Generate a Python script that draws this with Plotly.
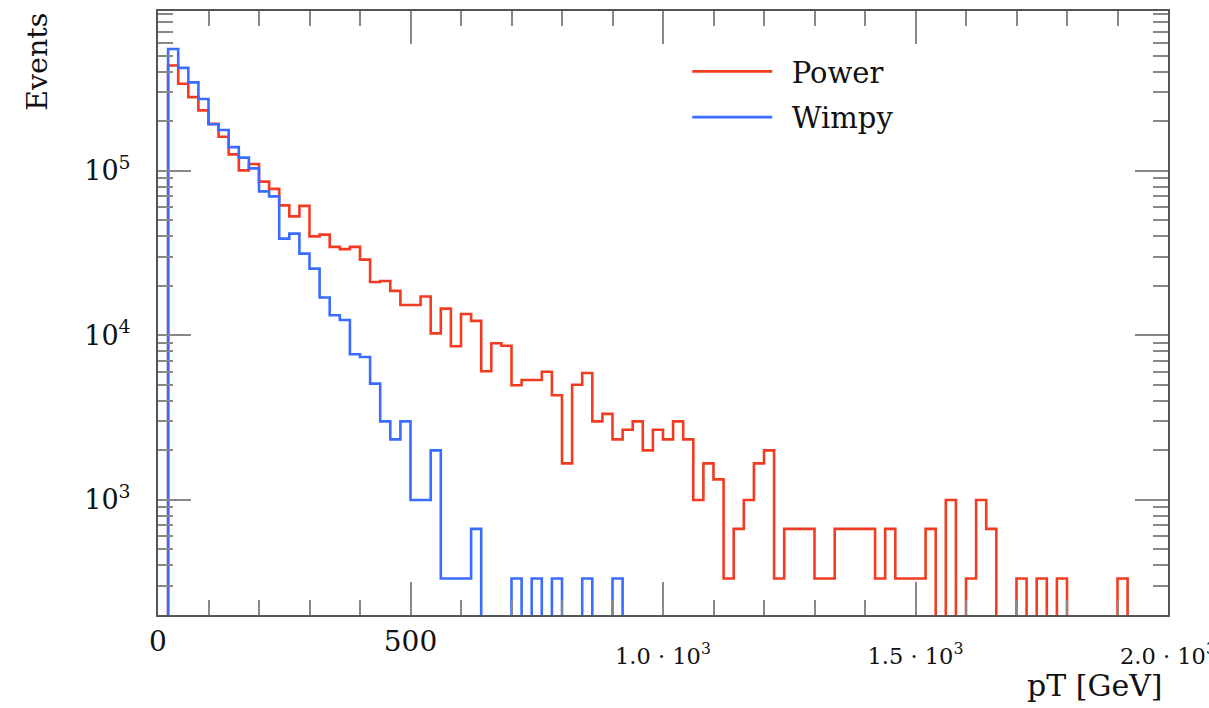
import numpy as np
import plotly.graph_objects as go

# ---------------- data ----------------
bin_width = 20  # GeV
bin_edges = list(range(0, 2001, bin_width))  # 100 bins, 0..2000 GeV

power = [
    0, 435800, 337500, 279800, 232400, 192400, 160900, 125600, 100400, 109700,
    85800, 77500, 61550, 52780, 61130, 39920, 40880, 34450, 33370, 34450,
    28810, 21070, 21360, 18630, 15280, 15280, 17200, 10280, 14530, 8575,
    13470, 12240, 6045, 8940, 8635, 4970, 5352, 5352, 6003, 4323,
    1667, 5005, 5903, 3000, 3333, 2333, 2667, 3000, 2000, 2667,
    2333, 3000, 2333, 1000, 1667, 1333, 333, 667, 1000, 1667,
    2000, 333, 667, 667, 667, 333, 333, 667, 667, 667,
    667, 333, 667, 333, 333, 333, 667, 0, 1000, 0,
    333, 1000, 667, 0, 0, 333, 0, 333, 0, 333,
    0, 0, 0, 0, 0, 333, 0, 0, 0, 0,
]

wimpy = [
    0, 548900, 421000, 343700, 272500, 191600, 176700, 139100, 120100, 103300,
    74850, 69820, 38650, 41440, 31340, 25410, 16960, 13230, 12380, 7666,
    7382, 5090, 3000, 2333, 3000, 1000, 1000, 2000, 333, 333,
    333, 667, 0, 0, 0, 333, 0, 333, 0, 333,
    0, 0, 333, 0, 0, 333, 0, 0, 0, 0,
    0, 0, 0, 0, 0, 0, 0, 0, 0, 0,
    0, 0, 0, 0, 0, 0, 0, 0, 0, 0,
    0, 0, 0, 0, 0, 0, 0, 0, 0, 0,
    0, 0, 0, 0, 0, 0, 0, 0, 0, 0,
    0, 0, 0, 0, 0, 0, 0, 0, 0, 0,
]

series_names = ["Power", "Wimpy"]
series_colors = ["#f23b20", "#3a6cff"]

x_tickvals = [0, 500, 1000, 1500, 2000]
x_tick_main = ["0", "500", "1.0 · 10", "1.5 · 10", "2.0 · 10"]
x_tick_exp = ["", "", "3", "3", "3"]
y_tickvals = [1e3, 1e4, 1e5]
y_ticktext = ["10<sup>3</sup>", "10<sup>4</sup>", "10<sup>5</sup>"]

FONT = "DejaVu Serif"
FLOOR = 1.0  # zero-count bins are drawn down below the visible log range


def x_label(main, exp):
    if not exp:
        return main
    return ('<span style="font-size:22.5px;baseline-shift:-13px">'
            + main + "<sup>" + exp + "</sup></span>")


def step_xy(values):
    xs = list(bin_edges)
    ys = [v if v > 0 else FLOOR for v in values]
    ys = ys + [ys[-1]]
    return xs, ys


fig = go.Figure()
for i, (name, vals) in enumerate(zip(series_names, [power, wimpy])):
    xs, ys = step_xy(vals)
    fig.add_trace(go.Scatter(
        x=xs, y=ys, mode="lines", name="\u2002" + name,
        line=dict(color=series_colors[i], width=2.6, shape="hv"),
        legendgroup=name,
    ))

minor_y = [m * 10 ** e for e in range(2, 6) for m in range(2, 10)]
minor_x = list(range(100, 2000, 100))

fig.update_layout(
    width=1209, height=708,
    margin=dict(l=158, r=41, t=11, b=93, autoexpand=False),
    paper_bgcolor="white", plot_bgcolor="white",
    font=dict(family=FONT, size=28, color="#111"),
    showlegend=True,
    legend=dict(
        x=0.524, y=0.942, xanchor="left", yanchor="top",
        font=dict(family=FONT, size=29, color="#111"),
        bgcolor="rgba(0,0,0,0)", borderwidth=0,
        itemwidth=80, tracegroupgap=5,
    ),
    xaxis=dict(
        range=[0, 2000], showgrid=False, zeroline=False, automargin=False,
        showline=True, linecolor="#555", linewidth=2, mirror="allticks",
        ticks="inside", ticklen=33, tickwidth=1.5, tickcolor="#888",
        tickmode="array", tickvals=x_tickvals,
        ticktext=[x_label(m, e) for m, e in zip(x_tick_main, x_tick_exp)],
        tickfont=dict(family=FONT, size=28, color="#111"),
        ticklabelstandoff=0, ticklabeloverflow="allow",
        minor=dict(ticks="inside", ticklen=15, tickwidth=1.5, tickcolor="#888",
                   tickmode="array", tickvals=minor_x, showgrid=False),
    ),
    yaxis=dict(
        type="log", range=[np.log10(200), 5.97], showgrid=False, zeroline=False,
        automargin=False,
        showline=True, linecolor="#555", linewidth=2, mirror="allticks",
        ticks="inside", ticklen=33, tickwidth=1.5, tickcolor="#888",
        tickmode="array", tickvals=y_tickvals, ticktext=y_ticktext,
        tickfont=dict(family=FONT, size=27, color="#111"),
        ticklabelstandoff=20,
        minor=dict(ticks="inside", ticklen=15, tickwidth=1.5, tickcolor="#888",
                   tickmode="array", tickvals=minor_y, showgrid=False),
    ),
    annotations=[
        dict(text="Events", xref="paper", yref="paper", x=-0.12, y=1.0,
             xanchor="center", yanchor="top", textangle=-90, showarrow=False,
             font=dict(family=FONT, size=28.5, color="#111")),
        dict(text="pT [GeV]", xref="paper", yref="paper", x=0.997, y=-0.085,
             xanchor="right", yanchor="top", showarrow=False,
             font=dict(family=FONT, size=30, color="#111")),
    ],
)

fig.write_html("out.html")
